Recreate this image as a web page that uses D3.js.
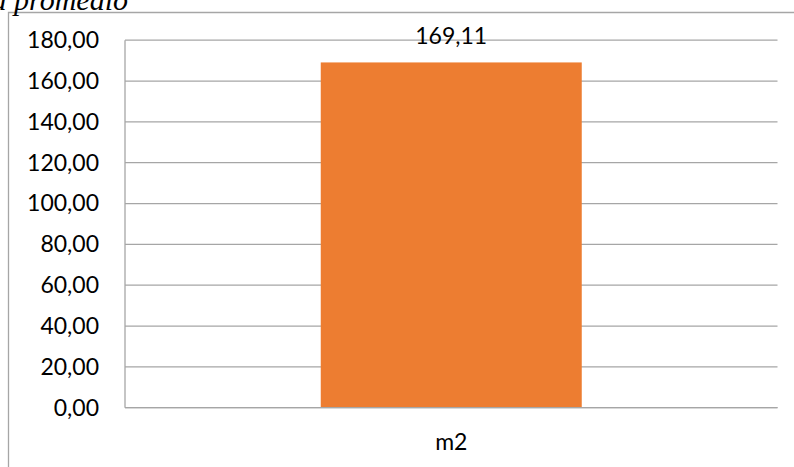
<!DOCTYPE html>
<html>
<head>
<meta charset="utf-8">
<script src="https://cdn.jsdelivr.net/npm/d3@7"></script>
<style>
  html, body { margin: 0; padding: 0; background: #fff; }
  svg { display: block; }
</style>
</head>
<body>
<svg id="chart" width="794" height="467"></svg>
<script>
// Chart data
const categories = ["m2"];
const values = [169.11];
const yTicks = [0, 20, 40, 60, 80, 100, 120, 140, 160, 180];
const titleText = "Área promedio";

const W = 794, H = 467;
const margin = { left: 125, right: 16.5, top: 40.2, bottom: 59.3 };
const svg = d3.select("#chart");

const fmt = v => d3.format(".2f")(v).replace(".", ",");
const font = "Lato, 'Open Sans', sans-serif";

// Outer frame (only left and top edges fall inside the view)
svg.append("path")
  .attr("d", `M8.5,${H} L8.5,12.5 L${W},12.5`)
  .attr("fill", "none")
  .attr("stroke", "#a6a6a6")
  .attr("stroke-width", 1.3);

// Title, partly clipped by the top edge
svg.append("text")
  .attr("x", 128)
  .attr("y", 10)
  .attr("text-anchor", "end")
  .attr("font-family", "'Liberation Serif', 'DejaVu Serif', serif")
  .attr("font-style", "italic")
  .attr("font-size", 30)
  .attr("fill", "#000")
  .text(titleText);

const x = d3.scaleBand()
  .domain(categories)
  .range([margin.left, W - margin.right])
  .paddingInner(0.6)
  .paddingOuter(0.3);

const y = d3.scaleLinear()
  .domain([0, 180])
  .range([H - margin.bottom, margin.top]);

// Horizontal gridlines
svg.append("g")
  .selectAll("line")
  .data(yTicks)
  .join("line")
  .attr("x1", margin.left)
  .attr("x2", W - margin.right)
  .attr("y1", d => y(d))
  .attr("y2", d => y(d))
  .attr("stroke", "#a6a6a6")
  .attr("stroke-width", 1.3);

// Y axis labels via d3 axis
const yAxis = svg.append("g")
  .attr("transform", `translate(${margin.left},0)`)
  .call(d3.axisLeft(y).tickValues(yTicks).tickFormat(fmt).tickSize(0).tickPadding(26));
yAxis.select(".domain").remove();
yAxis.selectAll("text")
  .attr("font-family", font)
  .attr("font-size", 23)
  .attr("fill", "#000");

// Bars
svg.append("g")
  .selectAll("rect")
  .data(values)
  .join("rect")
  .attr("x", (d, i) => x(categories[i]))
  .attr("width", x.bandwidth())
  .attr("y", d => y(d))
  .attr("height", d => y(0) - y(d))
  .attr("fill", "#ED7D31");

// Vertical axis line and baseline
svg.append("line")
  .attr("x1", margin.left).attr("x2", margin.left)
  .attr("y1", y(180)).attr("y2", y(0))
  .attr("stroke", "#a6a6a6").attr("stroke-width", 1.3);
svg.append("line")
  .attr("x1", margin.left).attr("x2", W - margin.right)
  .attr("y1", y(0)).attr("y2", y(0))
  .attr("stroke", "#a6a6a6").attr("stroke-width", 1.3);

// Value labels
svg.append("g")
  .selectAll("text")
  .data(values)
  .join("text")
  .attr("x", (d, i) => x(categories[i]) + x.bandwidth() / 2)
  .attr("y", d => y(d) - 18)
  .attr("text-anchor", "middle")
  .attr("font-family", font)
  .attr("font-size", 23)
  .attr("fill", "#000")
  .text(d => fmt(d));

// Category labels
const xAxis = svg.append("g")
  .attr("transform", `translate(0,${y(0)})`)
  .call(d3.axisBottom(x).tickSize(0).tickPadding(26));
xAxis.select(".domain").remove();
xAxis.selectAll("text")
  .attr("font-family", font)
  .attr("font-size", 23)
  .attr("fill", "#000");
</script>
</body>
</html>
